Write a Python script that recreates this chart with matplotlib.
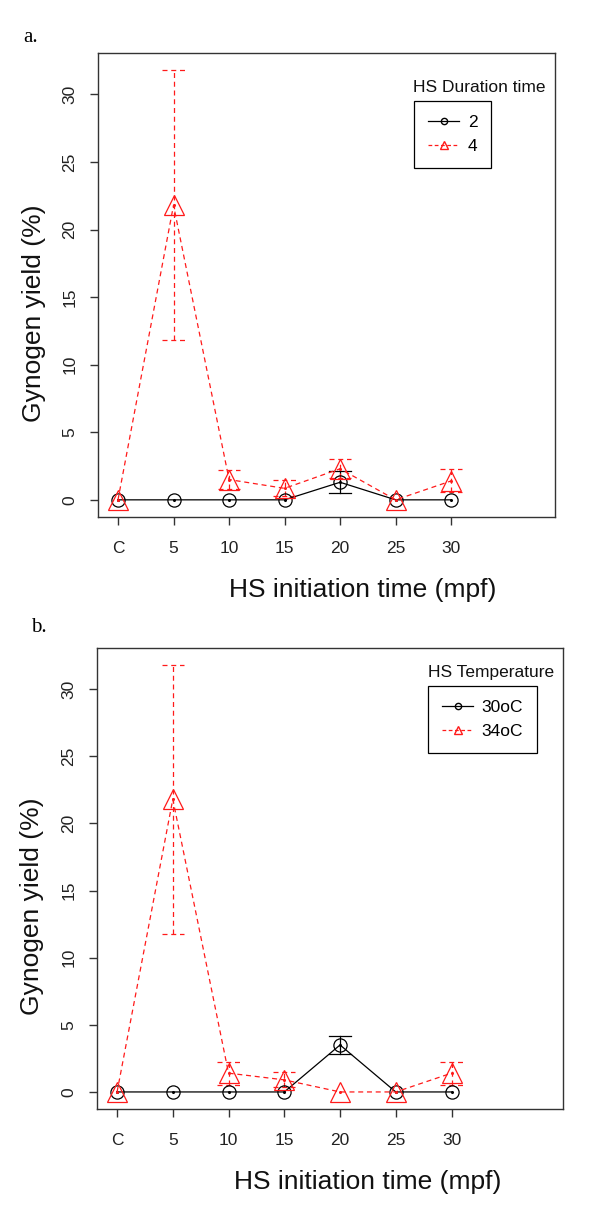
import numpy as np
import matplotlib

matplotlib.rcParams['font.family'] = ['Liberation Sans', 'DejaVu Sans']
import matplotlib.pyplot as plt
from matplotlib.lines import Line2D

# initiation times (x categories)
time_labels = ["C", "5", "10", "15", "20", "25", "30"]

# panel a: HS duration time
dur2_mean = [0, 0, 0, 0, 1.3, 0, 0]
dur2_err = [0, 0, 0, 0, 0.8, 0, 0]
dur4_mean = [0, 21.8, 1.5, 0.85, 2.3, 0, 1.4]
dur4_err = [0, 10.0, 0.7, 0.6, 0.7, 0, 0.85]

# panel b: HS temperature
t30_mean = [0, 0, 0, 0, 3.5, 0, 0]
t30_err = [0, 0, 0, 0, 0.7, 0, 0]
t34_mean = [0, 21.8, 1.4, 0.9, 0, 0, 1.4]
t34_err = [0, 10.0, 0.85, 0.55, 0, 0, 0.85]

W, H = 600, 1217
RED = '#ff1a1a'


def draw_series(ax, x, y, err, color, dashed, marker, ms):
    y = np.asarray(y, dtype=float)
    err = np.asarray(err, dtype=float)
    style = dict(color=color, lw=0.9)
    if dashed:
        style['dashes'] = (4, 3)
    ax.plot(x, y, marker=marker, ms=ms, mfc='none', mec=color, mew=0.9,
            zorder=3, **style)
    # small dot at each point centre
    ax.plot(x, y, ls='none', marker='o', ms=1.2, color=color, zorder=4)
    # error bars with caps (same line style as the series)
    cw = 0.2
    for xi, yi, ei in zip(x, y, err):
        if ei <= 0:
            continue
        ax.plot([xi, xi], [yi - ei, yi + ei], zorder=2, **style)
        for yy in (yi - ei, yi + ei):
            ax.plot([xi - cw, xi + cw], [yy, yy], zorder=2, **style)


def draw_panel(rect, mean1, err1, mean2, err2, labels, title, xlim, leg_xy, title_xy):
    fig = plt.gcf()
    ax = fig.add_axes(rect)
    x = np.arange(1, len(time_labels) + 1)

    draw_series(ax, x, mean1, err1, 'black', False, 'o', 9.5)
    draw_series(ax, x, mean2, err2, RED, True, '^', 15)

    ax.set_xlim(*xlim)
    ax.set_ylim(-1.27, 33.07)
    ax.set_xticks(x)
    ax.set_xticklabels(time_labels, fontsize=12.5, color='#222222')
    ax.set_yticks(np.arange(0, 31, 5))
    ax.set_yticklabels([str(v) for v in range(0, 31, 5)], fontsize=12.5,
                       rotation=90, va='center', color='#222222')
    ax.tick_params(axis='x', length=6, width=1, color='#333333', pad=11)
    ax.tick_params(axis='y', length=6, width=1, color='#333333', pad=9)
    for s in ax.spines.values():
        s.set_color('#333333')
        s.set_linewidth(1.0)

    ax.set_xlabel("HS initiation time (mpf)", fontsize=19, color='#111111')
    ax.xaxis.label.set_va('center')
    ax.xaxis.set_label_coords(0.58, -0.158)
    ax.set_ylabel("Gynogen yield (%)", fontsize=19, color='#111111')
    ax.yaxis.label.set_va('center')
    ax.yaxis.set_label_coords(-0.14, 0.44)

    handles = [
        Line2D([], [], color='black', lw=0.9, marker='o', ms=4.5, mfc='none'),
        Line2D([], [], color=RED, lw=0.9, dashes=(3, 2), marker='^', ms=5.5, mfc='none'),
    ]
    leg = ax.legend(handles, labels, loc='upper left', bbox_to_anchor=leg_xy,
                    borderaxespad=0, fontsize=12.5, handlelength=1.8,
                    handletextpad=0.5, borderpad=0.8, labelspacing=0.5,
                    fancybox=False, framealpha=1, edgecolor='black')
    leg.get_frame().set_linewidth(0.9)
    ax.text(title_xy[0], title_xy[1], title, transform=ax.transAxes,
            fontsize=12.5, ha='left', va='center', color='#111111')
    return ax


def main():
    fig = plt.figure(figsize=(W / 100, H / 100), dpi=100)

    # panel a
    draw_panel([98 / W, 1 - 517 / H, 457 / W, 464 / H],
               dur2_mean, dur2_err, dur4_mean, dur4_err,
               ["2", "4"], "HS Duration time", (0.64, 8.87),
               ((414 - 98) / 457, (517 - 101) / 464),
               ((413 - 98) / 457, (517 - 87) / 464))

    # panel b
    draw_panel([97 / W, 1 - 1109 / H, 466 / W, 461 / H],
               t30_mean, t30_err, t34_mean, t34_err,
               ["30oC", "34oC"], "HS Temperature", (0.64, 9.0),
               ((428 - 97) / 466, (1109 - 686) / 461),
               ((428 - 97) / 466, (1109 - 672) / 461))

    fig.text(31 / W, 1 - 37 / H, "a.", fontsize=15, family='Liberation Serif',
             ha='center', va='center')
    fig.text(39 / W, 1 - 628 / H, "b.", fontsize=15, family='Liberation Serif',
             ha='center', va='center')

    fig.savefig('out.png', dpi=100)


if __name__ == "__main__":
    main()
